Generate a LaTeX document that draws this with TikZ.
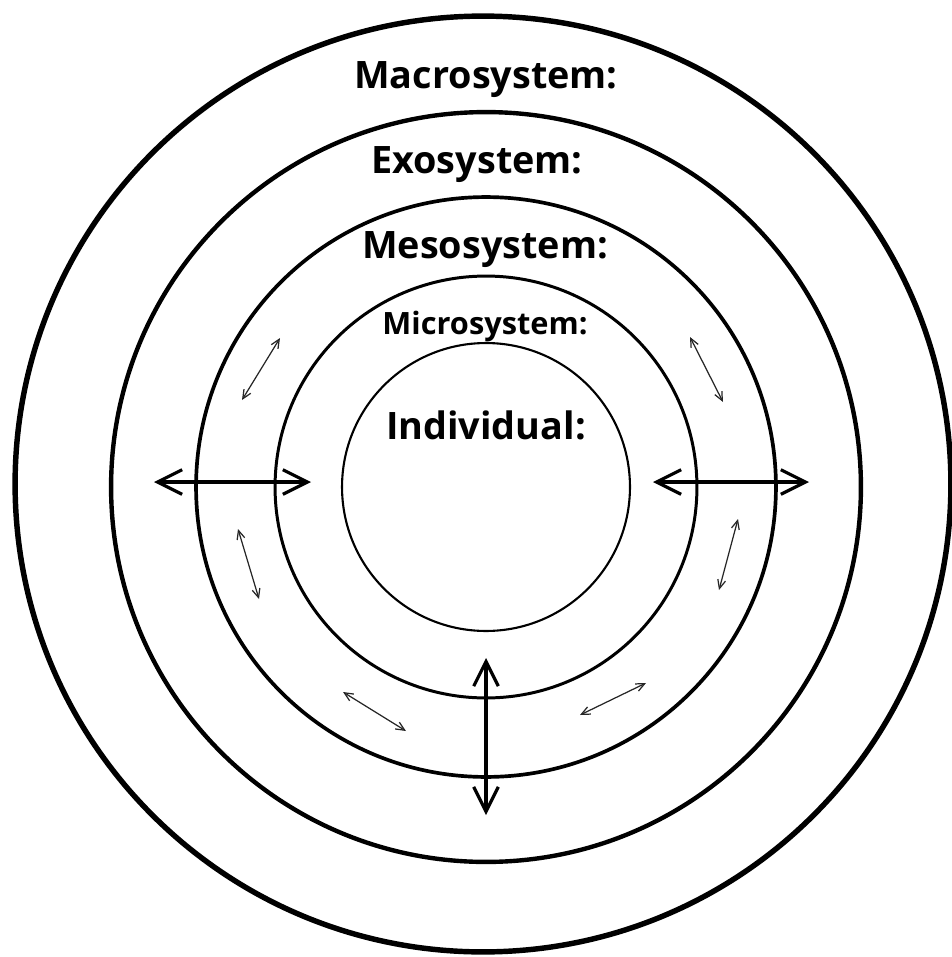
\documentclass[tikz,border=0pt]{standalone}
\usepackage{fontspec}
\setmainfont{Open Sans}
\usetikzlibrary{arrows.meta,positioning}

\begin{document}
\begin{tikzpicture}[
  x=0.02cm, y=-0.02cm,
  line cap=round, line join=round,
  ring/.style={circle, draw=black, inner sep=0pt, outer sep=0pt},
  lvl/.style={anchor=base, font=\bfseries\fontsize{21.5}{26}\selectfont, inner sep=0pt},
  bigarrow/.style={{Straight Barb[length=14pt,width=14pt]}-{Straight Barb[length=14pt,width=14pt]}, line width=1.8pt},
  smallarrow/.style={{Straight Barb[length=5pt,width=4.5pt]}-{Straight Barb[length=5pt,width=4.5pt]}, line width=0.7pt, draw=black!85}
]
\useasboundingbox (0,0) rectangle (952,957);

% =========================================================================
% Kruhy systémov
% =========================================================================
\node[ring, line width=3.1pt, minimum size=18.72cm] (macro) at (483,484) {};
\node[ring, line width=2.5pt, minimum size=15.0cm]  (exo)   at (486,487) {};
\node[ring, line width=2.1pt, minimum size=11.6cm]  (meso)  at (486,487) {};
\node[ring, line width=1.7pt, minimum size=8.44cm]  (micro) at (486,487) {};
\node[ring, line width=1.2pt, minimum size=5.76cm]  (indiv) at (486,487) {};

% =========================================================================
% Popisy
% =========================================================================
\node[lvl] (macrolbl) at (486,88)  {Macrosystem:};
\node[lvl] (exolbl)   at (477,173) {Exosystem:};
\node[lvl] (mesolbl)  at (485,258) {Mesosystem:};
\node[lvl, font=\bfseries\fontsize{17.5}{21}\selectfont] (microlbl) at (485,334) {Microsystem:};
\node[lvl] (indivlbl) at (486,439) {Individual:};

% =========================================================================
% Koncové body šípok
% =========================================================================
\coordinate (wl) at (154,482);  \coordinate (wr) at (311,482);
\coordinate (el) at (653,482);  \coordinate (er) at (809,482);
\coordinate (st) at (486,658);  \coordinate (sb) at (486,815);

\coordinate (ula) at (242,400); \coordinate (ulb) at (280,338);
\coordinate (lla) at (238,529); \coordinate (llb) at (259,599);
\coordinate (ura) at (690,337); \coordinate (urb) at (723,402);
\coordinate (lra) at (738,519); \coordinate (lrb) at (719,590);
\coordinate (bla) at (343,692); \coordinate (blb) at (406,731);
\coordinate (bra) at (646,683); \coordinate (brb) at (580,715);

% Veľké šípky
\draw[bigarrow] (wl) -- (wr);
\draw[bigarrow] (el) -- (er);
\draw[bigarrow] (st) -- (sb);

% Malé šípky
\draw[smallarrow] (ula) -- (ulb);
\draw[smallarrow] (lla) -- (llb);
\draw[smallarrow] (ura) -- (urb);
\draw[smallarrow] (lra) -- (lrb);
\draw[smallarrow] (bla) -- (blb);
\draw[smallarrow] (bra) -- (brb);

\end{tikzpicture}
\end{document}
